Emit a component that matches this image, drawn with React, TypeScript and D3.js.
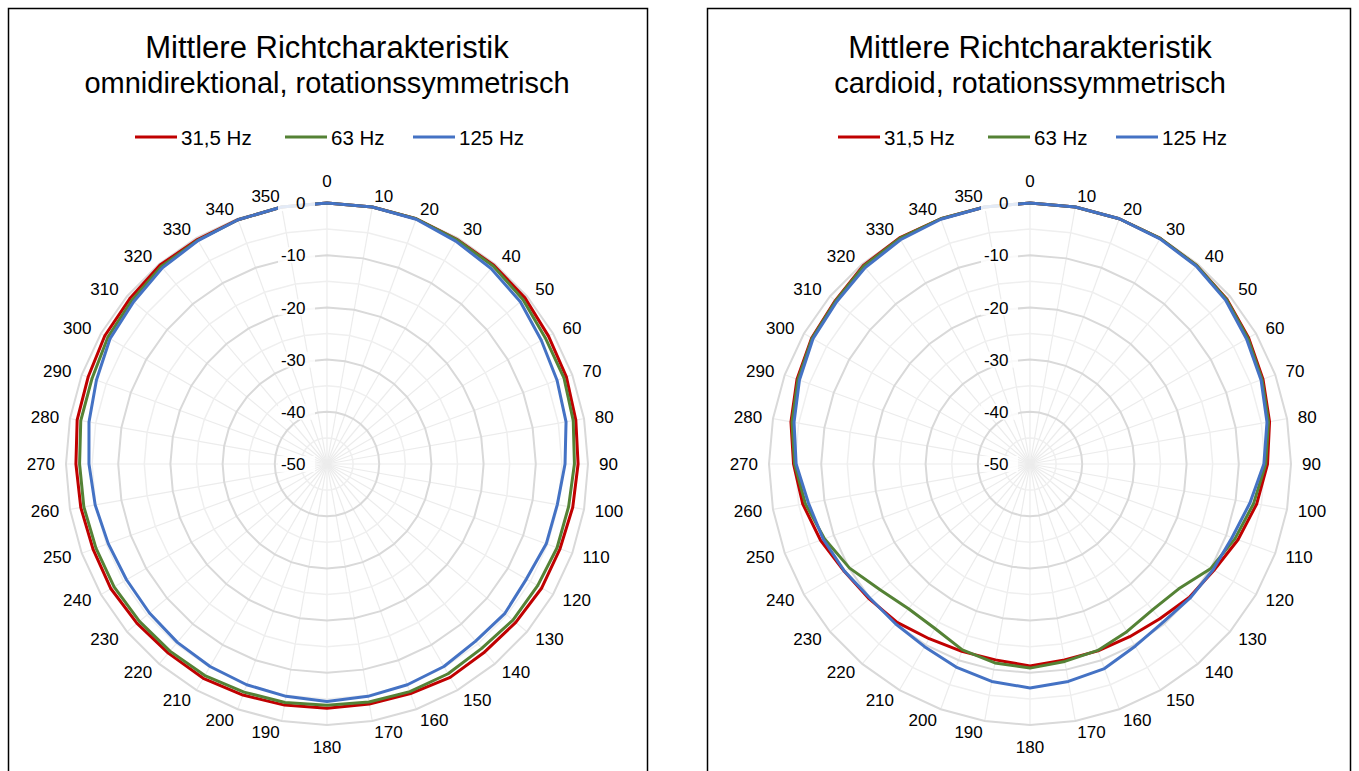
import React from 'react';
import * as d3 from 'd3';

// ---------- data ----------
const categories = [0, 10, 20, 30, 40, 50, 60, 70, 80, 90, 100, 110, 120, 130, 140, 150, 160, 170,
  180, 190, 200, 210, 220, 230, 240, 250, 260, 270, 280, 290, 300, 310, 320, 330, 340, 350];
const valueTicks = [0, -10, -20, -30, -40, -50];
const minorTicks = [-5, -15, -25, -35, -45];
const seriesNames = ['31,5 Hz', '63 Hz', '125 Hz'];
const seriesColors = ['#C00000', '#548235', '#4472C4'];

// omnidirektional
const omni315 = [0, 0, 0, -0.3, -0.3, -0.5, -1.0, -1.2, -1.6, -1.9, -2.2, -2.5, -2.5, -2.8, -3.0, -2.8, -3.2, -3.3,
  -3.2, -3.1, -2.9, -2.6, -2.7, -2.5, -2.2, -2.3, -2.1, -1.9, -1.4, -1.3, -0.85, -0.7, -0.25, -0.35, -0.2, 0];
const omni63 = [0, 0, 0, -0.35, -0.5, -1.0, -1.7, -1.7, -2.1, -2.6, -3.0, -3.1, -3.4, -3.5, -3.9, -3.6, -3.6, -3.7,
  -3.8, -3.6, -3.5, -3.2, -3.2, -3.1, -2.9, -2.9, -2.7, -2.6, -2.1, -2.1, -1.5, -1.2, -0.6, -0.5, -0.2, 0];
const omni125 = [0, 0, -0.1, -0.7, -1.1, -1.65, -2.6, -3.1, -3.5, -4.4, -5.2, -5.3, -5.9, -5.5, -5.7, -5.2, -5.0, -4.8,
  -4.5, -4.8, -5.0, -5.2, -5.4, -5.6, -5.65, -5.4, -4.9, -4.4, -3.7, -3.0, -2.0, -1.65, -0.95, -0.6, -0.2, 0];

// cardioid
const card315 = [0, 0, 0, -0.1, -0.35, -0.8, -1.65, -2.5, -3.4, -4.5, -5.9, -7.6, -9.3, -10.2, -11.3, -11.8, -11.9, -11.9,
  -11.3, -11.9, -11.8, -11.35, -10.4, -9.8, -8.9, -7.3, -5.8, -4.7, -3.5, -2.5, -1.7, -1.3, -0.35, 0, 0, 0];
const card63 = [0, 0, 0, -0.1, -0.35, -0.9, -1.8, -2.7, -3.6, -4.85, -6.5, -8.2, -10.0, -12.8, -13.5, -12.9, -12.0, -11.6,
  -10.9, -11.3, -12.1, -13.6, -13.8, -12.5, -10.1, -8.1, -6.3, -4.9, -3.7, -2.7, -1.8, -1.4, -0.5, -0.1, 0, 0];
const card125 = [0, 0, 0, -0.2, -0.5, -1.1, -2.1, -2.9, -3.9, -5.2, -7.2, -8.8, -9.5, -10.0, -10.4, -9.7, -8.3, -7.7,
  -7.1, -7.7, -8.6, -9.6, -10.0, -10.0, -8.95, -7.85, -6.9, -5.2, -4.1, -3.0, -2.0, -1.65, -0.9, -0.4, -0.1, 0];

const omniTitle = ['Mittlere Richtcharakteristik', 'omnidirektional, rotationssymmetrisch'];
const cardTitle = ['Mittlere Richtcharakteristik', 'cardioid, rotationssymmetrisch'];

// ---------- layout ----------
const W = 1359;
const H = 771;
const FONT = '"Liberation Sans", Arial, Helvetica, sans-serif';
const R = 261;
const CY = 464;

type PanelProps = {
  x0: number;
  x1: number;
  cx: number;
  title: string[];
  series: number[][];
};

function Panel({ x0, x1, cx, title, series }: PanelProps) {
  const rScale = d3.scaleLinear().domain([-50, 0]).range([0, R]);
  const aScale = d3.scaleLinear().domain([0, 360]).range([0, 2 * Math.PI]);

  const ringPath = (v: number) =>
    d3.lineRadial<number>()
      .angle((c) => aScale(c))
      .radius(() => rScale(v))
      .curve(d3.curveLinearClosed)(categories) as string;

  const seriesPath = (vals: number[]) =>
    d3.lineRadial<number>()
      .angle((_, i) => aScale(categories[i]))
      .radius((v) => rScale(v))
      .curve(d3.curveLinearClosed)(vals) as string;

  const legendOffsets = [-192, -42, 86];
  const labelR = 272;

  return (
    <g>
      <rect x={x0 + 0.5} y={8.5} width={x1 - x0} height={H + 40} fill="#fff" stroke="#000" strokeWidth={1.5} />
      {/* title */}
      <text x={cx} y={58} textAnchor="middle" fontSize={31} fontFamily={FONT} fill="#000">{title[0]}</text>
      <text x={cx} y={93} textAnchor="middle" fontSize={29} fontFamily={FONT} fill="#000">{title[1]}</text>
      {/* legend */}
      {seriesNames.map((n, i) => (
        <g key={n}>
          <line x1={cx + legendOffsets[i]} x2={cx + legendOffsets[i] + 42} y1={137} y2={137}
            stroke={seriesColors[i]} strokeWidth={3} />
          <text x={cx + legendOffsets[i] + 46} y={144.5} fontSize={20.5} fontFamily={FONT} fill="#000">{n}</text>
        </g>
      ))}
      <g transform={`translate(${cx},${CY})`}>
        {/* spokes */}
        {categories.map((c) => {
          const a = aScale(c);
          return (
            <line key={'s' + c} x1={0} y1={0} x2={Math.sin(a) * R} y2={-Math.cos(a) * R}
              stroke="#ececec" strokeWidth={1.2} />
          );
        })}
        {minorTicks.map((v) => (
          <path key={'m' + v} d={ringPath(v)} fill="none" stroke="#efefef" strokeWidth={1.5} />
        ))}
        {valueTicks.filter((v) => v > -50).map((v) => (
          <path key={'M' + v} d={ringPath(v)} fill="none" stroke="#d9d9d9" strokeWidth={2} />
        ))}
        {/* series */}
        {series.map((vals, i) => (
          <path key={'p' + i} d={seriesPath(vals)} fill="none" stroke={seriesColors[i]}
            strokeWidth={3} strokeLinejoin="round" />
        ))}
        {/* value axis labels */}
        {valueTicks.map((v) => (
          <g key={'v' + v}>
            <rect x={-49} y={-rScale(v) - 8} width={37} height={16} fill="#fff" opacity={0.85} />
            <text x={-21.5} y={-rScale(v)} dy="0.36em" textAnchor="end" fontSize={17} fontFamily={FONT} fill="#000">{v}</text>
          </g>
        ))}
        {/* category labels */}
        {categories.map((c) => {
          const a = aScale(c);
          const px = Math.sin(a) * labelR;
          const py = -Math.cos(a) * labelR;
          let anchor = 'middle';
          let dyPx = 0;
          if (c === 0) dyPx = -11;
          else if (c === 180) dyPx = 11;
          else if (c < 180) anchor = 'start';
          else anchor = 'end';
          return (
            <text key={'c' + c} x={px} y={py + dyPx} dy="0.36em"
              textAnchor={anchor} fontSize={17} fontFamily={FONT} fill="#000">{c}</text>
          );
        })}
      </g>
    </g>
  );
}

export default function App() {
  return (
    <svg width={W} height={H} style={{ position: 'absolute', left: 0, top: 0, background: '#fff' }}>
      <rect x={0} y={0} width={W} height={H} fill="#fff" />
      <Panel x0={8} x1={647} cx={327} title={omniTitle} series={[omni315, omni63, omni125]} />
      <Panel x0={707} x1={1350} cx={1030} title={cardTitle} series={[card315, card63, card125]} />
    </svg>
  );
}
